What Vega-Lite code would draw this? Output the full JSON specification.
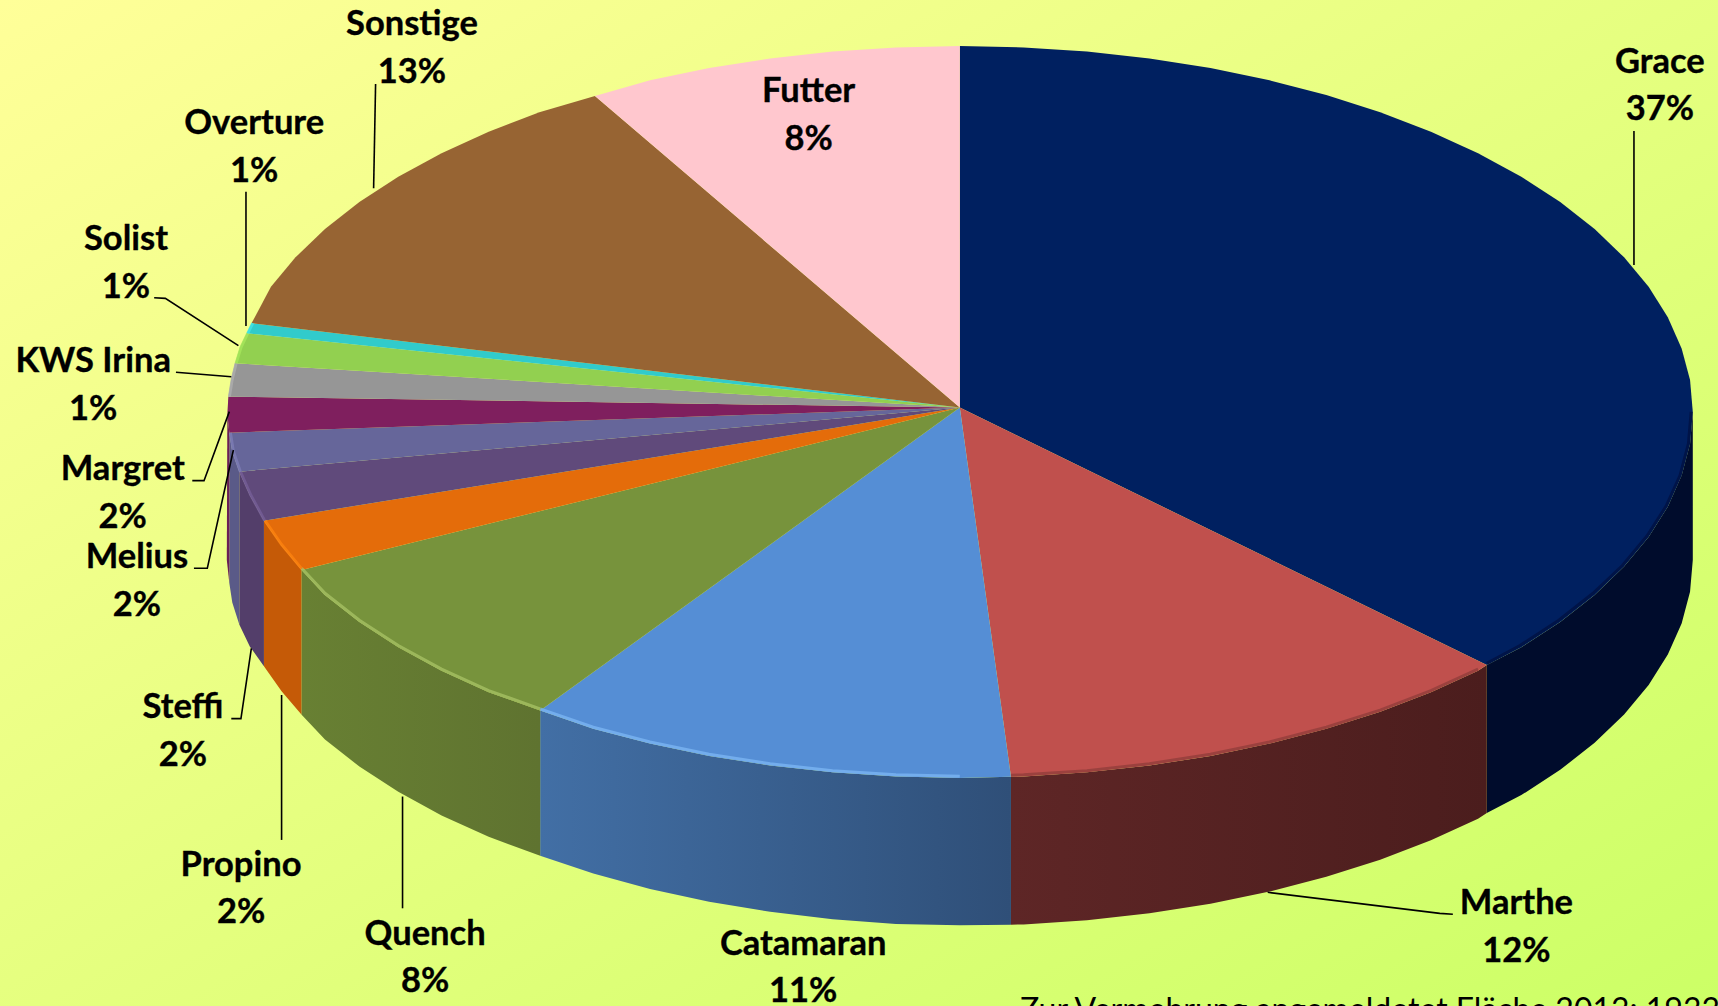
{
"$schema":"https://vega.github.io/schema/vega-lite/v6.json",
"width":1718,"height":1006,"padding":0,"autosize":{"type":"none"},
"background":"#e6ff80",
"view":{"stroke":null,"fill":{"gradient":"linear","x1":0,"y1":0,"x2":1,"y2":1,"stops":[{"offset":0,"color":"#FFFF99"},{"offset":1,"color":"#CCFF66"}]}},
"projection":{"type":"identity","scale":1.09566,"translate":[0,0]},
"datasets":{
"walls":[
{"type":"Feature","properties":{"name":"Grace"},"geometry":{"type":"Polygon","coordinates":[[[1545,376],[1542.5,405.1],[1534.8,434],[1522.2,462.4],[1504.7,490.2],[1482.3,517.1],[1455.4,543],[1424,567.6],[1388.5,590.7],[1357,607],[1357,742],[1388.5,725.7],[1424,702.6],[1455.4,678],[1482.3,652.1],[1504.7,625.2],[1522.2,597.4],[1534.8,569],[1542.5,540.1],[1545,511],[1545,376]]]}},
{"type":"Feature","properties":{"name":"Propino"},"geometry":{"type":"Polygon","coordinates":[[[275.3,520.2],[257,498],[240.9,475.2],[240.9,608],[257,631],[275.3,652.3],[275.3,520.2]]]}},
{"type":"Feature","properties":{"name":"Steffi"},"geometry":{"type":"Polygon","coordinates":[[[240.9,475.2],[228,452],[218.4,430.5],[218.4,570],[228,590],[240.9,608],[240.9,475.2]]]}},
{"type":"Feature","properties":{"name":"Melius"},"geometry":{"type":"Polygon","coordinates":[[[218.4,430.5],[212,412],[209.3,394.9],[209.3,532],[212,550],[218.4,570],[218.4,430.5]]]}},
{"type":"Feature","properties":{"name":"Margret"},"geometry":{"type":"Polygon","coordinates":[[[209.3,394.9],[207.5,378],[207,511],[209.3,532],[209.3,394.9]]]}}
],
"wallMarthe":[
{"type":"Feature","properties":{"name":"Marthe"},"geometry":{"type":"Polygon","coordinates":[[[1357,607],[1349,612.2],[1306,631.8],[1259.7,649.6],[1210.5,665.2],[1158.7,678.7],[1104.8,689.9],[1049.1,698.6],[992.1,704.9],[934.3,708.7],[922.7,709],[922.7,844],[934.3,843.7],[992.1,839.9],[1049.1,833.6],[1104.8,824.9],[1158.7,813.7],[1210.5,800.2],[1259.7,784.6],[1306,766.8],[1349,747.2],[1357,742],[1357,607]]]}}
],
"wallCatamaran":[
{"type":"Feature","properties":{"name":"Catamaran"},"geometry":{"type":"Polygon","coordinates":[[[922.7,709],[876,710],[817.7,708.7],[759.9,704.9],[702.9,698.6],[647.2,689.9],[593.3,678.7],[541.5,665.2],[493,648.5],[493,781],[541.5,797.2],[593.3,811.3],[647.2,823],[702.9,832.2],[759.9,839],[817.7,843.3],[876,844.5],[922.7,844],[922.7,709]]]}}
],
"wallQuench":[
{"type":"Feature","properties":{"name":"Quench"},"geometry":{"type":"Polygon","coordinates":[[[493,648.5],[446,631.8],[403,612.2],[363.5,590.7],[328,567.6],[296.6,543],[275.3,520.2],[275.3,652.3],[296.6,675],[328,699.6],[363.5,722.7],[403,744.2],[446,763.8],[493,781],[493,648.5]]]}}
],
"faces":[
{"type":"Feature","properties":{"name":"Grace"},"geometry":{"type":"Polygon","coordinates":[[[876,372],[876,42],[934.3,43.3],[992.1,47.1],[1049.1,53.4],[1104.8,62.1],[1158.7,73.3],[1210.5,86.8],[1259.7,102.4],[1306,120.2],[1349,139.8],[1388.5,161.3],[1424,184.4],[1455.4,209],[1482.3,234.9],[1504.7,261.8],[1522.2,289.6],[1534.8,318],[1542.5,346.9],[1545,376],[1542.5,405.1],[1534.8,434],[1522.2,462.4],[1504.7,490.2],[1482.3,517.1],[1455.4,543],[1424,567.6],[1388.5,590.7],[1357,607],[876,372]]]}},
{"type":"Feature","properties":{"name":"Marthe"},"geometry":{"type":"Polygon","coordinates":[[[876,372],[1357,607],[1349,612.2],[1306,631.8],[1259.7,649.6],[1210.5,665.2],[1158.7,678.7],[1104.8,689.9],[1049.1,698.6],[992.1,704.9],[934.3,708.7],[922.7,709],[876,372]]]}},
{"type":"Feature","properties":{"name":"Catamaran"},"geometry":{"type":"Polygon","coordinates":[[[876,372],[922.7,709],[876,710],[817.7,708.7],[759.9,704.9],[702.9,698.6],[647.2,689.9],[593.3,678.7],[541.5,665.2],[493,648.5],[876,372]]]}},
{"type":"Feature","properties":{"name":"Quench"},"geometry":{"type":"Polygon","coordinates":[[[876,372],[493,648.5],[446,631.8],[403,612.2],[363.5,590.7],[328,567.6],[296.6,543],[275.3,520.2],[876,372]]]}},
{"type":"Feature","properties":{"name":"Propino"},"geometry":{"type":"Polygon","coordinates":[[[876,372],[275.3,520.2],[257,498],[240.9,475.2],[876,372]]]}},
{"type":"Feature","properties":{"name":"Steffi"},"geometry":{"type":"Polygon","coordinates":[[[876,372],[240.9,475.2],[228,452],[218.4,430.5],[876,372]]]}},
{"type":"Feature","properties":{"name":"Melius"},"geometry":{"type":"Polygon","coordinates":[[[876,372],[218.4,430.5],[212,412],[209.3,394.9],[876,372]]]}},
{"type":"Feature","properties":{"name":"Margret"},"geometry":{"type":"Polygon","coordinates":[[[876,372],[209.3,394.9],[207.5,378],[208.4,362],[876,372]]]}},
{"type":"Feature","properties":{"name":"KWS Irina"},"geometry":{"type":"Polygon","coordinates":[[[876,372],[208.4,362],[211,346],[214.5,331.6],[876,372]]]}},
{"type":"Feature","properties":{"name":"Solist"},"geometry":{"type":"Polygon","coordinates":[[[876,372],[214.5,331.6],[219,317],[225.1,304.2],[876,372]]]}},
{"type":"Feature","properties":{"name":"Overture"},"geometry":{"type":"Polygon","coordinates":[[[876,372],[225.1,304.2],[229.7,294.9],[876,372]]]}},
{"type":"Feature","properties":{"name":"Sonstige"},"geometry":{"type":"Polygon","coordinates":[[[876,372],[229.7,294.9],[247.3,261.8],[269.7,234.9],[296.6,209],[328,184.4],[363.5,161.3],[403,139.8],[446,120.2],[492.3,102.4],[543,87.6],[876,372]]]}},
{"type":"Feature","properties":{"name":"Futter"},"geometry":{"type":"Polygon","coordinates":[[[876,372],[543,87.6],[593.3,73.3],[647.2,62.1],[702.9,53.4],[759.9,47.1],[817.7,43.3],[876,42],[876,372]]]}}
],
"rims":[
{"type":"Feature","properties":{"name":"Grace"},"geometry":{"type":"LineString","coordinates":[[1543.5,376],[1541,405.1],[1533.3,434],[1520.7,461.9],[1503.2,489.2],[1480.8,516.1],[1454,541.5],[1422.7,566.1],[1387.3,589.2],[1357,605.5]]}},
{"type":"Feature","properties":{"name":"Marthe"},"geometry":{"type":"LineString","coordinates":[[1349,610.7],[1306,630.3],[1259.7,648.1],[1210.5,663.7],[1158.7,677.2],[1104.8,688.4],[1049.1,697.1],[992.1,703.4],[934.3,707.2],[922.7,707.5]]}},
{"type":"Feature","properties":{"name":"Catamaran"},"geometry":{"type":"LineString","coordinates":[[876,708.5],[817.7,707.2],[759.9,703.4],[702.9,697.1],[647.2,688.4],[593.3,677.2],[541.5,663.7],[493,647]]}},
{"type":"Feature","properties":{"name":"Quench"},"geometry":{"type":"LineString","coordinates":[[493,647],[446,630.3],[403,610.7],[363.5,589.2],[328,566.1],[296.6,541.5],[275.3,518.7]]}},
{"type":"Feature","properties":{"name":"Propino"},"geometry":{"type":"LineString","coordinates":[[275.3,519],[257,497],[241.9,475.2]]}},
{"type":"Feature","properties":{"name":"Steffi"},"geometry":{"type":"LineString","coordinates":[[241.5,475],[229,452],[219.4,430.5]]}},
{"type":"Feature","properties":{"name":"Melius"},"geometry":{"type":"LineString","coordinates":[[219.4,430.5],[213,412],[210.3,395]]}},
{"type":"Feature","properties":{"name":"KWS Irina"},"geometry":{"type":"LineString","coordinates":[[209.4,362],[212,346],[215.5,331.6]]}},
{"type":"Feature","properties":{"name":"Solist"},"geometry":{"type":"LineString","coordinates":[[215.5,331.6],[220,317],[226.1,304.2]]}},
{"type":"Feature","properties":{"name":"Overture"},"geometry":{"type":"LineString","coordinates":[[226.1,304.2],[230.7,294.9]]}}
],
"leaders":[
{"type":"Feature","properties":{"name":"Grace"},"geometry":{"type":"LineString","coordinates":[[1491.3,119.6],[1491.3,241.9]]}},
{"type":"Feature","properties":{"name":"Sonstige"},"geometry":{"type":"LineString","coordinates":[[342.8,76.7],[341,171.9]]}},
{"type":"Feature","properties":{"name":"Overture"},"geometry":{"type":"LineString","coordinates":[[224.5,175],[224.5,297.5]]}},
{"type":"Feature","properties":{"name":"Solist"},"geometry":{"type":"LineString","coordinates":[[140.7,271.7],[150.9,272.3],[217.6,315.5]]}},
{"type":"Feature","properties":{"name":"KWS Irina"},"geometry":{"type":"LineString","coordinates":[[160.6,339.8],[211.1,343.8]]}},
{"type":"Feature","properties":{"name":"Margret"},"geometry":{"type":"LineString","coordinates":[[209.3,375.7],[186.2,438.7],[175.5,438.7]]}},
{"type":"Feature","properties":{"name":"Melius"},"geometry":{"type":"LineString","coordinates":[[213,410.7],[189.2,518.7],[177,518.7]]}},
{"type":"Feature","properties":{"name":"Steffi"},"geometry":{"type":"LineString","coordinates":[[229.4,591.7],[219.9,655.9],[211.1,655.9]]}},
{"type":"Feature","properties":{"name":"Propino"},"geometry":{"type":"LineString","coordinates":[[257,634.3],[257,766.6]]}},
{"type":"Feature","properties":{"name":"Quench"},"geometry":{"type":"LineString","coordinates":[[367.4,727],[367.4,829]]}},
{"type":"Feature","properties":{"name":"Marthe"},"geometry":{"type":"LineString","coordinates":[[1157,814.4],[1314.1,833.6],[1326,834.4]]}}
],
"labels":[
{"name":"Grace","share":0.37,"lon":1515,"lat":76.5},
{"name":"Marthe","share":0.12,"lon":1384,"lat":844.5},
{"name":"Catamaran","share":0.11,"lon":733,"lat":881.5},
{"name":"Quench","share":0.08,"lon":388,"lat":872.5},
{"name":"Propino","share":0.02,"lon":220,"lat":809.5},
{"name":"Steffi","share":0.02,"lon":167,"lat":665.5},
{"name":"Melius","share":0.02,"lon":125,"lat":528.5},
{"name":"Margret","share":0.02,"lon":112,"lat":448.5},
{"name":"KWS Irina","share":0.01,"lon":85,"lat":350},
{"name":"Solist","share":0.01,"lon":115,"lat":238.5},
{"name":"Overture","share":0.01,"lon":232,"lat":133},
{"name":"Sonstige","share":0.13,"lon":376,"lat":42.5},
{"name":"Futter","share":0.08,"lon":738,"lat":103.5}
],
"note":[{"text":"Zur Vermehrung angemeldetet Fläche 2013: 1933","lon":931,"lat":932}]
},
"layer":[
{"data":{"name":"walls"},"mark":{"type":"geoshape"},
"encoding":{"fill":{"field":"properties.name","type":"nominal","legend":null,"scale":{
"domain":["Grace","Propino","Steffi","Melius","Margret"],
"range":["#000c2c","#c55a07","#533e6a","#5a5a88","#6a1f56"]}}}},
{"data":{"name":"wallMarthe"},"mark":{"type":"geoshape","fill":{"gradient":"linear","x1":0,"y1":0,"x2":1,"y2":0,"stops":[{"offset":0,"color":"#5e2626"},{"offset":1,"color":"#4b1d1d"}]}},"encoding":{}},
{"data":{"name":"wallCatamaran"},"mark":{"type":"geoshape","fill":{"gradient":"linear","x1":0,"y1":0,"x2":1,"y2":0,"stops":[{"offset":0,"color":"#426fa5"},{"offset":1,"color":"#2f4f78"}]}},"encoding":{}},
{"data":{"name":"wallQuench"},"mark":{"type":"geoshape","fill":{"gradient":"linear","x1":0,"y1":0,"x2":1,"y2":0,"stops":[{"offset":0,"color":"#688033"},{"offset":1,"color":"#5f7330"}]}},"encoding":{}},
{"data":{"name":"faces"},"mark":{"type":"geoshape","strokeWidth":0.6},
"encoding":{"color":{"field":"properties.name","type":"nominal","legend":null,"scale":{
"domain":["Grace","Marthe","Catamaran","Quench","Propino","Steffi","Melius","Margret","KWS Irina","Solist","Overture","Sonstige","Futter"],
"range":["#002060","#C0504D","#558ED5","#77933C","#E46C0A","#604A7B","#66669A","#7F1F5E","#969696","#92D050","#31CBCB","#976433","#FFC7CE"]}}}},
{"data":{"name":"rims"},"mark":{"type":"geoshape","filled":false,"strokeWidth":3,"opacity":0.75},
"encoding":{"stroke":{"field":"properties.name","type":"nominal","legend":null,"scale":{
"domain":["Grace","Marthe","Catamaran","Quench","Propino","Steffi","Melius","KWS Irina","Solist","Overture"],
"range":["#001040","#8F3C3A","#7DB8F5","#A9C466","#FF8410","#77609A","#7F7FB8","#B0B0B0","#A8E85C","#45E6E6"]}}}},
{"data":{"name":"leaders"},"mark":{"type":"geoshape","filled":false,"stroke":"#000000","strokeWidth":1.6},"encoding":{}},
{"data":{"name":"labels"},"mark":{"type":"text","font":"Lato","fontWeight":"bold","fontSize":34.5,"align":"center","baseline":"middle","dy":-21.3,"fill":"#000000","stroke":"#000000","strokeWidth":0.35},
"encoding":{"longitude":{"field":"lon","type":"quantitative"},"latitude":{"field":"lat","type":"quantitative"},"text":{"field":"name","type":"nominal"}}},
{"data":{"name":"labels"},"mark":{"type":"text","font":"Lato","fontWeight":"bold","fontSize":34.5,"align":"center","baseline":"middle","dy":26.5,"fill":"#000000","stroke":"#000000","strokeWidth":0.35},
"encoding":{"longitude":{"field":"lon","type":"quantitative"},"latitude":{"field":"lat","type":"quantitative"},"text":{"field":"share","type":"quantitative","format":".0%"}}},
{"data":{"name":"note"},"mark":{"type":"text","font":"Lato","fontSize":32,"align":"left","baseline":"alphabetic","fill":"#000000"},
"encoding":{"longitude":{"field":"lon","type":"quantitative"},"latitude":{"field":"lat","type":"quantitative"},"text":{"field":"text","type":"nominal"}}}
]
}
